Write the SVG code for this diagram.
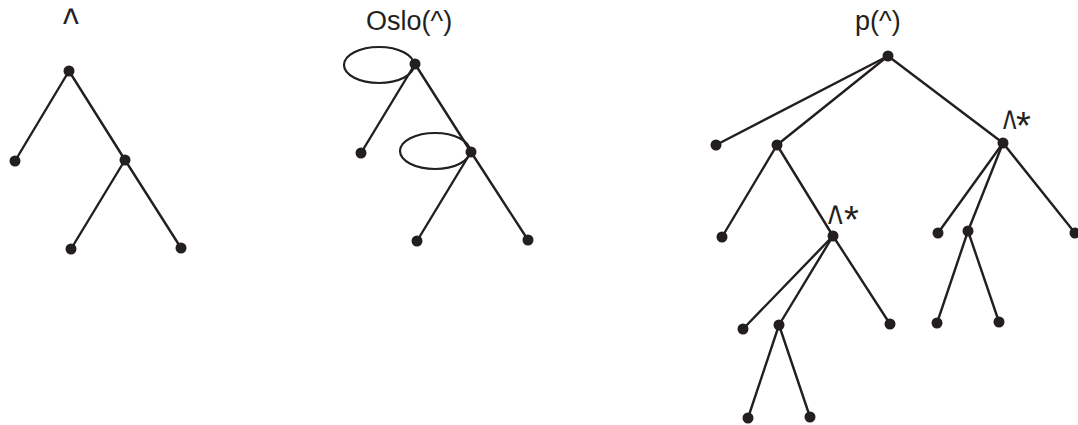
<svg xmlns="http://www.w3.org/2000/svg" width="1078" height="425" viewBox="0 0 1078 425">
<style>
.e{stroke:#231f20;stroke-width:2.4;fill:none;stroke-linecap:round}
.n{fill:#231f20}
.t{font-family:"Liberation Sans",Arial,sans-serif;font-size:27px;fill:#231f20}
.c{font-family:"Liberation Sans",Arial,sans-serif;font-size:52px;fill:#231f20}
.c0{font-family:"Liberation Sans",Arial,sans-serif;font-size:42px;fill:#231f20}
.s{font-family:"Liberation Sans",Arial,sans-serif;font-size:38px;fill:#231f20}
.loop{stroke:#231f20;stroke-width:2.2;fill:none}
</style>
<rect width="1078" height="425" fill="#fff"/>
<g id="labels">
<text class="c0" transform="translate(63,38.3) scale(0.8,1)">^</text>
<text class="t" x="366" y="30">Oslo(^)</text>
<text class="t" x="855" y="30">p(^)</text>
<text class="c" transform="translate(828,240.5) scale(0.6,1)">^</text>
<text class="s" x="844" y="233">*</text>
<text class="c" transform="translate(1003,145.5) scale(0.55,1)">^</text>
<text class="s" x="1016" y="139">*</text>
</g>
<g id="connectors">
<line class="e" x1="69" y1="71" x2="15" y2="161"/>
<line class="e" x1="69" y1="71" x2="125" y2="160"/>
<line class="e" x1="125" y1="160" x2="71" y2="249"/>
<line class="e" x1="125" y1="160" x2="181" y2="248"/>
<line class="e" x1="415" y1="64" x2="361" y2="153"/>
<line class="e" x1="415" y1="64" x2="471" y2="152"/>
<line class="e" x1="471" y1="152" x2="417" y2="241"/>
<line class="e" x1="471" y1="152" x2="528" y2="240"/>
<ellipse class="loop" cx="379" cy="65" rx="35" ry="18"/>
<ellipse class="loop" cx="435" cy="151" rx="35" ry="18"/>
<line class="e" x1="888" y1="56" x2="716" y2="145"/>
<line class="e" x1="888" y1="56" x2="777" y2="145"/>
<line class="e" x1="888" y1="56" x2="1003" y2="143"/>
<line class="e" x1="777" y1="145" x2="722" y2="237"/>
<line class="e" x1="777" y1="145" x2="833" y2="236"/>
<line class="e" x1="833" y1="236" x2="743" y2="329"/>
<line class="e" x1="833" y1="236" x2="779" y2="325"/>
<line class="e" x1="833" y1="236" x2="890" y2="324"/>
<line class="e" x1="779" y1="325" x2="748" y2="418"/>
<line class="e" x1="779" y1="325" x2="810" y2="417"/>
<line class="e" x1="1003" y1="143" x2="938" y2="233"/>
<line class="e" x1="1003" y1="143" x2="968" y2="231"/>
<line class="e" x1="1003" y1="143" x2="1075" y2="233"/>
<line class="e" x1="968" y1="231" x2="937" y2="323"/>
<line class="e" x1="968" y1="231" x2="999" y2="322"/>
</g>
<g id="a1"><circle class="n" cx="69" cy="71" r="5.5"/></g>
<g id="a2"><circle class="n" cx="15" cy="161" r="5.5"/></g>
<g id="a3"><circle class="n" cx="125" cy="160" r="5.5"/></g>
<g id="a4"><circle class="n" cx="71" cy="249" r="5.5"/></g>
<g id="a5"><circle class="n" cx="181" cy="248" r="5.5"/></g>
<g id="b1"><circle class="n" cx="415" cy="64" r="5.5"/></g>
<g id="b2"><circle class="n" cx="361" cy="153" r="5.5"/></g>
<g id="b3"><circle class="n" cx="471" cy="152" r="5.5"/></g>
<g id="b4"><circle class="n" cx="417" cy="241" r="5.5"/></g>
<g id="b5"><circle class="n" cx="528" cy="240" r="5.5"/></g>
<g id="c1"><circle class="n" cx="888" cy="56" r="5.5"/></g>
<g id="c2"><circle class="n" cx="716" cy="145" r="5.5"/></g>
<g id="c3"><circle class="n" cx="777" cy="145" r="5.5"/></g>
<g id="c4"><circle class="n" cx="1003" cy="143" r="5.5"/></g>
<g id="c5"><circle class="n" cx="722" cy="237" r="5.5"/></g>
<g id="c6"><circle class="n" cx="833" cy="236" r="5.5"/></g>
<g id="c7"><circle class="n" cx="743" cy="329" r="5.5"/></g>
<g id="c8"><circle class="n" cx="779" cy="325" r="5.5"/></g>
<g id="c9"><circle class="n" cx="890" cy="324" r="5.5"/></g>
<g id="c10"><circle class="n" cx="748" cy="418" r="5.5"/></g>
<g id="c11"><circle class="n" cx="810" cy="417" r="5.5"/></g>
<g id="c12"><circle class="n" cx="938" cy="233" r="5.5"/></g>
<g id="c13"><circle class="n" cx="968" cy="231" r="5.5"/></g>
<g id="c14"><circle class="n" cx="1075" cy="233" r="5.5"/></g>
<g id="c15"><circle class="n" cx="937" cy="323" r="5.5"/></g>
<g id="c16"><circle class="n" cx="999" cy="322" r="5.5"/></g>
</svg>
